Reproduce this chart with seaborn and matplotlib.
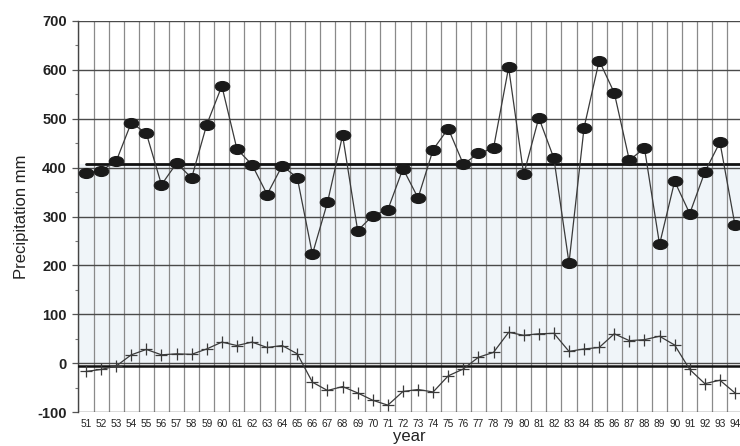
import numpy as np
import pandas as pd
import matplotlib
matplotlib.use("Agg")
import matplotlib.pyplot as plt
from matplotlib.path import Path
from matplotlib.transforms import Affine2D
from matplotlib.ticker import MultipleLocator, FixedLocator
import seaborn as sns

years = list(range(51, 95))
precip = [389, 394, 413, 492, 470, 365, 409, 379, 488, 567,
          438, 406, 345, 404, 379, 223, 329, 466, 271, 302,
          314, 398, 338, 437, 480, 407, 429, 440, 605, 386,
          502, 419, 205, 482, 619, 553, 415, 440, 243, 372,
          306, 391, 452, 282]
cum_dev = [-17, -13, -6, 17, 28, 17, 19, 18, 29, 43,
           36, 43, 32, 36, 19, -39, -56, -48, -61, -76,
           -86, -58, -54, -59, -26, -12, 12, 22, 63, 57,
           60, 61, 24, 29, 32, 60, 46, 48, 55, 37,
           -13, -42, -35, -61]
mean_precip = 408
zero_ref = -5

df = pd.DataFrame({"year": years, "precip": precip, "dev": cum_dev})

sns.set_theme(style="white")
plt.rcParams['font.family'] = ['Liberation Sans', 'DejaVu Sans']
plt.rcParams['axes.unicode_minus'] = False

fig = plt.figure(figsize=(7.4, 4.46), dpi=100)
ax = fig.add_axes([78/740, 34/446, 662/740, 391/446])

ax.set_xlim(50.47, 94.33)
ax.set_ylim(-100, 700)

# faint blue shading below the mean
ax.axhspan(0, mean_precip, color='#f0f5f9', zorder=0, lw=0)

# grids
ax.xaxis.set_minor_locator(FixedLocator(np.arange(50.5, 95, 1.0)))
ax.xaxis.set_major_locator(FixedLocator(years))
ax.yaxis.set_major_locator(MultipleLocator(100))
ax.yaxis.set_minor_locator(MultipleLocator(50))
ax.grid(which='minor', axis='x', color='#8a8a8a', lw=0.9, zorder=1)
ax.grid(which='major', axis='x', visible=False)
ax.grid(which='major', axis='y', color='#4a4a4a', lw=1.0, zorder=1)

# reference lines
ax.plot([51, 94.33], [mean_precip, mean_precip], color='#111111', lw=2.0, zorder=3)
ax.axhline(zero_ref, color='#111111', lw=1.8, zorder=3)

ell = Path.unit_circle().transformed(Affine2D().scale(1.45, 1.0))

sns.lineplot(data=df, x="year", y="precip", ax=ax, color='#3a3a3a', lw=0.9,
             marker=ell, markersize=10.5, markerfacecolor='#1a1a1a',
             markeredgecolor='#1a1a1a', zorder=4)
sns.lineplot(data=df, x="year", y="dev", ax=ax, color='#3a3a3a', lw=0.9,
             marker='+', markersize=9, markeredgewidth=0.9,
             markeredgecolor='#3a3a3a', zorder=4)

for s in ['top', 'right', 'bottom']:
    ax.spines[s].set_visible(False)
ax.spines['left'].set_color('#444444')
ax.spines['left'].set_linewidth(1.0)

ax.set_xticklabels([str(y) for y in years])
ax.tick_params(axis='x', which='both', length=0, labelsize=7.3, pad=5, colors='#222222')
ax.tick_params(axis='y', which='major', length=4, width=0.9, color='#555555',
               labelsize=10.5, pad=4, labelcolor='#222222', left=True)
ax.tick_params(axis='y', which='minor', length=2.5, width=0.8, color='#777777', left=True)
for t in ax.get_yticklabels():
    t.set_fontweight('bold')

ax.set_xlabel("year", fontsize=12, color='#222222', labelpad=0)
ax.set_ylabel("Precipitation mm", fontsize=12, color='#222222', labelpad=6)

fig.savefig("out.png", dpi=100)
